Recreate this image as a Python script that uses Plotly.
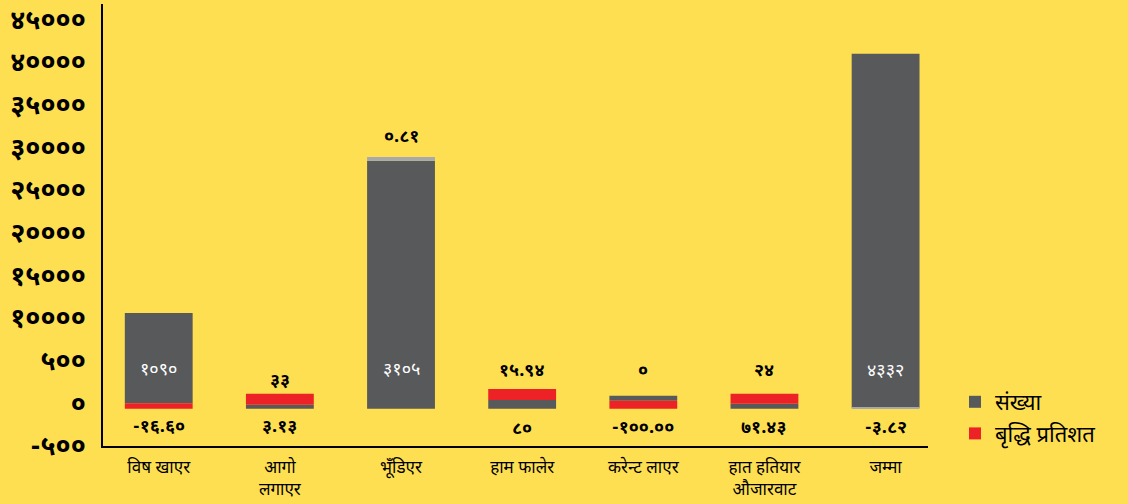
import plotly.graph_objects as go

categories = ['विष खाएर', 'आगो<br>लगाएर', 'भूँडिएर', 'हाम फालेर', 'करेन्ट लाएर', 'हात हतियार<br>औजारवाट', 'जम्मा']

# visual bar heights (axis units)
baseline = -630
count_height = [10580, 470, 29070, 1030, 590, 590, 41490]
growth_height = [630, 1290, 430, 1290, 940, 1170, 120]
growth_on_top = [False, True, True, True, False, True, False]

count_labels = ['१०९०', '३३', '३१०५', '८०', '०', '२४', '४३३२']
growth_labels = ['-१६.६०', '३.१३', '०.८१', '१५.९४', '-१००.००', '७१.४३', '-३.८२']

tick_vals = [-5000, 0, 5000, 10000, 15000, 20000, 25000, 30000, 35000, 40000, 45000]
tick_text = ['-५००', '०', '५००', '१००००', '१५०००', '२००००', '२५०००', '३००००', '३५०००', '४००००', '४५०००']

# label placement (layout)
count_label_y = [3900, 2550, 3900, -3100, 3780, 3780, 3700]
count_label_inside = [True, False, True, False, False, False, True]
growth_label_y = [-2850, -2850, 31190, 3780, -2950, -2950, -2950]

GREY = '#58595B'
RED = '#EC2227'
LIGHT = '#A7A9AC'
BG = '#FFDF52'
FONT = 'Noto Sans Devanagari, Lohit Devanagari, FreeSans, Noto Sans, sans-serif'

count_base = []
growth_base = []
for c, g, top in zip(count_height, growth_height, growth_on_top):
    if top:
        count_base.append(baseline)
        growth_base.append(baseline + c)
    else:
        growth_base.append(baseline)
        count_base.append(baseline + g)

growth_colors = [LIGHT if i in (2, 6) else RED for i in range(len(categories))]

fig = go.Figure()
fig.add_trace(go.Bar(x=categories, y=count_height, base=count_base, name='संख्या',
                     marker=dict(color=GREY, line=dict(width=0)), width=0.56,
                     hoverinfo='skip'))
fig.add_trace(go.Bar(x=categories, y=growth_height, base=growth_base, name='बृद्धि प्रतिशत',
                     marker=dict(color=growth_colors, line=dict(width=0)), width=0.56,
                     hoverinfo='skip'))

for i, cat in enumerate(categories):
    fig.add_annotation(x=cat, y=count_label_y[i], text=count_labels[i], showarrow=False,
                       font=dict(family=FONT, size=18,
                                 color='white' if count_label_inside[i] else 'black',
                                 weight='normal' if count_label_inside[i] else 'bold'))
    fig.add_annotation(x=cat, y=growth_label_y[i], text=growth_labels[i], showarrow=False,
                       font=dict(family=FONT, size=18, color='black', weight='bold'))

fig.update_layout(
    width=1128, height=504,
    barmode='overlay',
    paper_bgcolor=BG, plot_bgcolor=BG,
    margin=dict(l=103, r=200, t=4, b=58, autoexpand=False),
    showlegend=True,
    legend=dict(x=955 / 1128, xref='container', xanchor='left',
                y=1 - 381 / 504, yref='container', yanchor='top',
                font=dict(family=FONT, size=22, color='black'),
                bgcolor='rgba(0,0,0,0)', tracegroupgap=4),
    font=dict(family=FONT, color='black'),
)
fig.update_xaxes(type='category', range=[-0.46, 6.35], showline=True, linecolor='black',
                 linewidth=1.5, ticks='', showgrid=False, zeroline=False,
                 ticklabelstandoff=5, automargin=False,
                 tickfont=dict(family=FONT, size=17, color='black'))
fig.update_yaxes(range=[-5000, 46800], tickvals=tick_vals, ticktext=tick_text,
                 showline=True, linecolor='black', linewidth=1.5, showgrid=False,
                 zeroline=False, ticks='', ticklabelstandoff=10, automargin=False,
                 tickfont=dict(family=FONT, size=27, color='black', weight='bold'))

fig.write_html('out.html', config={'displayModeBar': False},
               post_script="document.body.style.margin='0';document.body.style.background='" + BG + "';")
